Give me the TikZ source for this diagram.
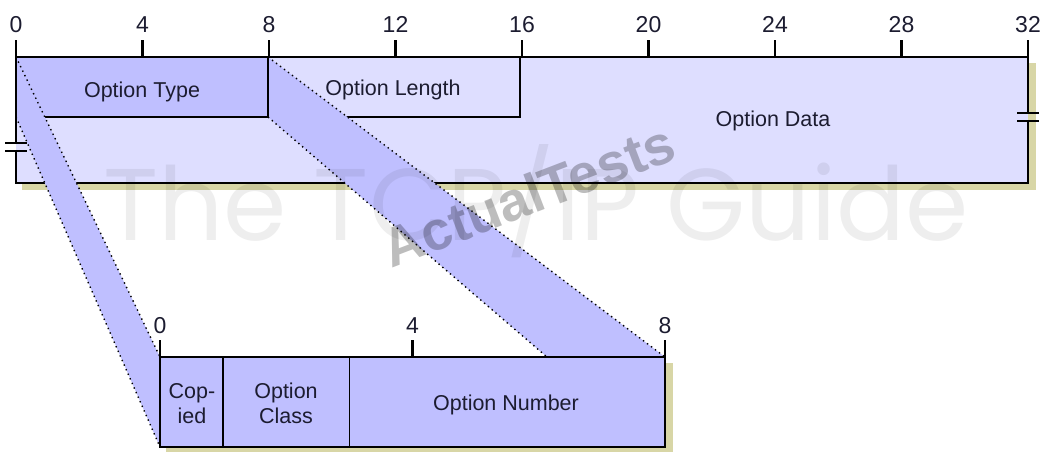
\documentclass[tikz,border=0pt]{standalone}
\usepackage{fontspec}
\setmainfont{Liberation Sans}
\newfontfamily\wmfont{Poppins}
\usepackage{graphicx}
\definecolor{lightfill}{RGB}{222,222,255}
\definecolor{darkfill}{RGB}{191,191,255}
\definecolor{shadowc}{RGB}{216,214,166}
\definecolor{txt}{RGB}{28,28,48}
\begin{document}
\begin{tikzpicture}[x=1pt,y=-1pt,
  border/.style={line width=2.4pt, line join=miter},
  thinline/.style={line width=1.3pt},
  tickline/.style={line width=2.4pt},
  dotline/.style={line width=1.4pt, dash pattern=on 1.4pt off 3.6pt},
  lbl/.style={font=\fontsize{21.5}{24}\selectfont, text=txt, inner sep=0pt, anchor=base},
  numlbl/.style={font=\fontsize{23}{26}\selectfont, text=txt, inner sep=0pt, anchor=base},
]
\useasboundingbox (0,0) rectangle (1042,451);
% key coordinates
\coordinate (TL) at (16,57);
\coordinate (TR) at (1028,57);
\coordinate (BR) at (1028,183);
\coordinate (BL) at (16,183);
\coordinate (OTbl) at (16,117);
\coordinate (OTtr) at (268,57);
\coordinate (OTbr) at (268,117);
\coordinate (OLbr) at (520,117);
\coordinate (OLtr) at (520,57);
\coordinate (LTL) at (160,357);
\coordinate (LBL) at (160,447);
\coordinate (LTR) at (665,357);
\coordinate (LBR) at (665,447);
\coordinate (RB) at (547,357);
% shadows
\fill[shadowc] (22,63) rectangle (1036,190);
\fill[shadowc] (166,363) rectangle (673,455);
% top box
\fill[lightfill] (TL) rectangle (BR);
\fill[darkfill] (TL) rectangle (OTbr);
\draw[thinline] (OTbl) -- (OTbr) -- (OTtr);
\draw[thinline] (OTbr) -- (OLbr) -- (OLtr);
\draw[border] (16,143) -- (TL) -- (TR) -- (1028,113);
\draw[border] (1028,121) -- (BR) -- (BL) -- (16,151);
\draw[line width=2pt] (5,143) -- (27,143) (5,151) -- (27,151)
  (1017,113) -- (1039,113) (1017,121) -- (1039,121);
% top ruler
\foreach \b in {0,4,...,32}{
  \draw[tickline] ({16+31.625*\b},40) -- ({16+31.625*\b},57);
  \node[numlbl] (t\b) at ({16+31.625*\b},32) {\b};
}
% projection bands
\fill[darkfill] (TL) -- (LTL) -- (LBL) -- (OTbl) -- cycle;
\fill[darkfill] (OTtr) -- (LTR) -- (RB) -- (OTbr) -- cycle;
\draw[dotline] (TL) -- (LTL);
\draw[dotline] (OTbl) -- (LBL);
\draw[dotline] (OTtr) -- (LTR);
\draw[dotline] (OTbr) -- (RB);
\draw[border] (16,143) -- (TL) -- (TR);
\draw[thinline] (OTtr) -- (OTbr);
% field labels
\node[lbl] (ot) at (142,97) {Option Type};
\node[lbl] (ol) at (393,95) {Option Length};
\node[lbl] (od) at (773,126) {Option Data};
% lower box
\fill[darkfill] (LTL) rectangle (LBR);
\draw[thinline] (223.1,357) -- (223.1,447);
\draw[thinline] (349.4,357) -- (349.4,447);
\draw[border] (LTL) rectangle (LBR);
\foreach \b in {0,4,8}{
  \draw[tickline] ({160+63.125*\b},340) -- ({160+63.125*\b},357);
  \node[numlbl] (b\b) at ({160+63.125*\b},333) {\b};
}
\node[lbl] (cop1) at (192,398) {Cop-};
\node[lbl] (cop2) at (192,423) {ied};
\node[lbl] (oc1) at (286,398) {Option};
\node[lbl] (oc2) at (286,423) {Class};
\node[lbl] (on) at (506,410) {Option Number};
% watermarks
\node[anchor=base west, inner sep=0pt, text=black, text opacity=0.065] (wm1) at (103,240)
  {\resizebox{865pt}{!}{\wmfont The TCP/IP Guide}};
\node[rotate=21, inner sep=0pt, text=black, text opacity=0.26,
  font=\bfseries\fontsize{55}{60}\selectfont] (wm2) at (528,195) {ActualTests};
\end{tikzpicture}
\end{document}
